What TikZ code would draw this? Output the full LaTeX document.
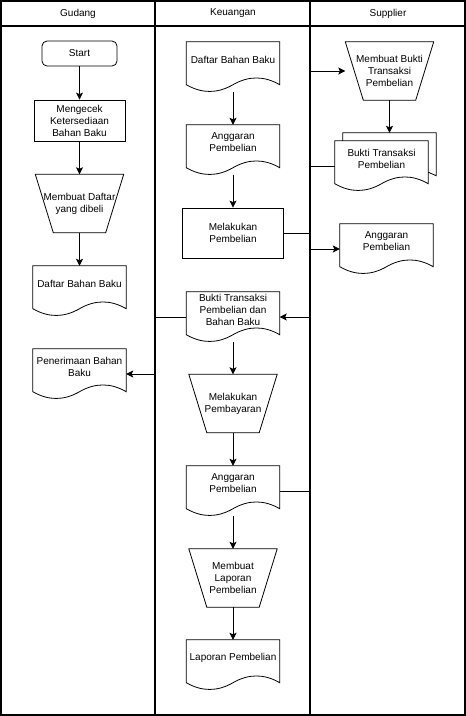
\documentclass[tikz,border=0pt]{standalone}
\usepackage{fontspec}
\setmainfont{Liberation Sans}
\usetikzlibrary{arrows.meta,calc}

\begin{document}
\begin{tikzpicture}[x=1pt, y=-1pt, >={Stealth[length=7pt,width=7pt,inset=1.5pt]},
  every node/.style={font=\fontsize{10}{12}\selectfont},
  lane/.style={line width=1.2pt},
  link/.style={->, line width=0.9pt},
  startbox/.style={draw, line width=0.8pt, rounded corners=5pt, minimum width=75, minimum height=25, inner sep=0},
  procbox/.style={draw, line width=0.8pt, minimum width=91, minimum height=41, inner sep=0, align=center},
  manop/.style={minimum width=88, minimum height=58, inner sep=0, align=center,
    append after command={\pgfextra{
      \draw[line width=0.8pt] (\tikzlastnode.north west) -- (\tikzlastnode.north east)
        -- ([xshift=-18pt]\tikzlastnode.south east) -- ([xshift=18pt]\tikzlastnode.south west) -- cycle;
    }}},
  docnode/.style={minimum width=93, minimum height=50, inner sep=0,
    append after command={\pgfextra{
      \draw[line width=0.8pt] (\tikzlastnode.north west) -- (\tikzlastnode.north east)
        -- ([yshift=7.5pt]\tikzlastnode.south east)
        .. controls ([xshift=-15.5pt,yshift=16.5pt]\tikzlastnode.south east)
        and ([xshift=15.5pt,yshift=16.5pt]\tikzlastnode.south) .. ([yshift=7.5pt]\tikzlastnode.south)
        .. controls ([xshift=-15.5pt,yshift=-1.5pt]\tikzlastnode.south)
        and ([xshift=15.5pt,yshift=-1.5pt]\tikzlastnode.south west) .. ([yshift=7.5pt]\tikzlastnode.south west)
        -- cycle;
    }},
    label={[align=center, yshift=7.5pt]center:{#1}}},
  multidoc/.style={
    append after command={\pgfextra{
      \draw[line width=0.8pt] ([xshift=8pt]\tikzlastnode.north west) -- ([shift={(8pt,8pt)}]\tikzlastnode.north west)
        -- ([shift={(8pt,8pt)}]\tikzlastnode.north east) -- ([shift={(8pt,15.5pt)}]\tikzlastnode.south east)
        -- ([yshift=19pt]\tikzlastnode.south east);
    }},
    docnode={#1}}]
  \useasboundingbox (0,0) rectangle (466,716);

  % --- swimlanes ---
  \draw[lane] (1,1) rectangle (465,715);
  \draw[lane] (1,26) -- (465,26);
  \draw[lane] (155,1) -- (155,715);
  \draw[lane] (310,1) -- (310,715);
  \coordinate (lanea) at (155,26);
  \coordinate (laneb) at (310,26);
  \node (hgudang) at (78,13.5) {Gudang};
  \node (hkeuangan) at (233,13.5) {Keuangan};
  \node (hsupplier) at (388,13.5) {Supplier};

  % --- Gudang ---
  \node[startbox] (gstart) at (79.5,53.5) {Start};
  \node[procbox] (gcek) at (79.5,120.5) {Mengecek\\Ketersediaan\\Bahan Baku};
  \node[manop] (gbuat) at (79.5,203.5) {Membuat Daftar\\yang dibeli};
  \node[docnode={Daftar Bahan Baku}] (gdaftar) at (79.5,291) {};
  \node[docnode={Penerimaan Bahan\\Baku}] (gterima) at (79.5,374) {};

  % --- Keuangan ---
  \node[docnode={Daftar Bahan Baku}] (kdaftar) at (233,67) {};
  \node[docnode={Anggaran\\Pembelian}] (kanggaran) at (233,150) {};
  \node[procbox, minimum width=101, minimum height=50] (kbeli) at (233,233) {Melakukan\\Pembelian};
  \node[docnode={Bukti Transaksi\\Pembelian dan\\Bahan Baku}] (kbukti) at (233,317) {};
  \node[manop] (kbayar) at (233,403.5) {Melakukan\\Pembayaran};
  \node[docnode={Anggaran\\Pembelian}] (kanggaranb) at (233,491) {};
  \node[manop] (kbuatlap) at (233,578) {Membuat\\Laporan\\Pembelian};
  \node[docnode={Laporan Pembelian}] (klaporan) at (233,665) {};

  % --- Supplier ---
  \node[manop] (sbuat) at (389.5,71) {Membuat Bukti\\Transaksi\\Pembelian};
  \node[multidoc={Bukti Transaksi\\Pembelian}] (sbukti) at (381.5,166) {};
  \coordinate (sbuktitop) at ([yshift=8pt]sbukti.north);
  \node[docnode={Anggaran\\Pembelian}] (sanggaran) at (386.5,249) {};

  % --- alur ---
  \draw[link] (gstart) -- (gcek);
  \draw[link] (gcek) -- (gbuat);
  \draw[link] (gbuat) -- (gdaftar);
  \draw[link] (kdaftar) -- (kanggaran);
  \draw[link] (kanggaran) -- (kbeli);
  \draw[link] (kbukti) -- (kbayar);
  \draw[link] (kbayar) -- (kanggaranb);
  \draw[link] (kanggaranb) -- (kbuatlap);
  \draw[link] (kbuatlap) -- (klaporan);
  \draw[link] (sbuat.south) -- (sbuat.south |- sbuktitop);

  \draw[link] (kbeli.east) -- (kbeli.east -| laneb) |- (sbuat.west);
  \draw[link] (sbukti.west) -- (sbukti.west -| laneb) |- (kbukti.east);
  \draw[link] (kanggaranb.east) -- (kanggaranb.east -| laneb) |- (sanggaran.west);
  \draw[link] (kbukti.west) -- (kbukti.west -| lanea) |- (gterima.east);
\end{tikzpicture}
\end{document}
